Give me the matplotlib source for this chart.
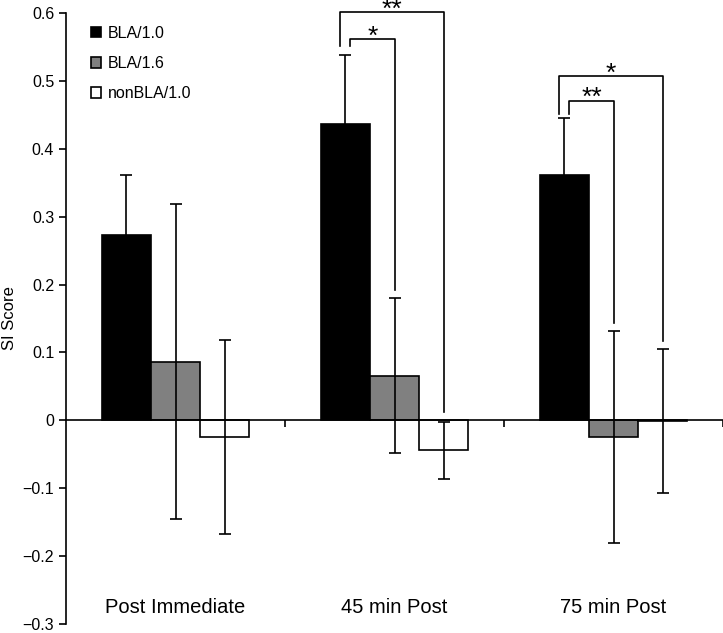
import matplotlib.pyplot as plt
import numpy as np

plt.rcParams.update({
    "font.family": ["Liberation Sans", "DejaVu Sans"],
    "font.size": 11,
    "axes.unicode_minus": True,
})

# --------------------------------------------------
# data
# --------------------------------------------------
categories = ["Post Immediate", "45 min Post", "75 min Post"]
series = ["BLA/1.0", "BLA/1.6", "nonBLA/1.0"]
means = {
    "BLA/1.0": [0.273, 0.437, 0.362],
    "BLA/1.6": [0.086, 0.066, -0.024],
    "nonBLA/1.0": [-0.025, -0.044, -0.001],
}
errors = {
    "BLA/1.0": [0.089, 0.101, 0.084],
    "BLA/1.6": [0.232, 0.114, 0.156],
    "nonBLA/1.0": [0.143, 0.042, 0.106],
}
colors = {"BLA/1.0": "black", "BLA/1.6": "#808080", "nonBLA/1.0": "white"}

# significance brackets: (category, compared series, bar height, left foot, right foot, label)
brackets = [
    (1, 1, 0.562, 0.551, 0.192, "*"),
    (1, 2, 0.601, 0.551, 0.012, "**"),
    (2, 1, 0.471, 0.451, 0.144, "**"),
    (2, 2, 0.507, 0.451, 0.117, "*"),
]

# --------------------------------------------------
# figure
# --------------------------------------------------
fig = plt.figure(figsize=(7.23, 6.33), dpi=100)
ax = fig.add_axes([66 / 723, 1 - 624 / 633, 1 - 66 / 723, (624 - 13) / 633])

width = 0.224
x = np.arange(len(categories))
offsets = [-width, 0.0, width]

for s, off in zip(series, offsets):
    ax.bar(x + off, means[s], width, color=colors[s], edgecolor="black",
           linewidth=1.2, label=s, zorder=2)
    ax.errorbar(x + off, means[s], yerr=errors[s], fmt="none", ecolor="black",
                elinewidth=1.2, capsize=4, capthick=1.2, zorder=3)

# brackets
dx = 0.023
for cat, idx, top, left_foot, right_foot, label in brackets:
    x_left = x[cat] + offsets[0] + (dx if idx == 1 else -dx)
    x_right = x[cat] + offsets[idx]
    ax.plot([x_left, x_left, x_right, x_right],
            [left_foot, top, top, right_foot],
            color="black", linewidth=1.2, clip_on=False, zorder=4)
    ax.text((x_left + x_right) / 2, top - 0.007, label, ha="center",
            va="baseline", fontsize=19, clip_on=False)

# axes styling
ax.set_xlim(-0.5, 2.5)
ax.set_ylim(-0.3, 0.6)
ax.set_yticks(np.round(np.arange(-0.3, 0.61, 0.1), 1))
ax.set_yticklabels(["\u22120.3", "\u22120.2", "\u22120.1", "0",
                    "0.1", "0.2", "0.3", "0.4", "0.5", "0.6"])
ax.tick_params(axis="y", direction="out", length=5, width=1.2, labelsize=11.5)
ax.spines["left"].set_linewidth(1.2)
ax.spines["bottom"].set_position(("data", 0))
ax.spines["bottom"].set_linewidth(1.2)
ax.spines["top"].set_visible(False)
ax.spines["right"].set_visible(False)
ax.set_xticks([0.5, 1.5, 2.5])
ax.set_xticklabels([])
ax.tick_params(axis="x", direction="out", length=5, width=1.2)

for xi, cat in zip(x, categories):
    ax.text(xi, -0.275, cat, ha="center", va="center", fontsize=14.5)

ax.set_ylabel("SI Score", fontsize=12, labelpad=4)

ax.legend(loc="upper left", bbox_to_anchor=(0.018, 1.0), frameon=False,
          fontsize=11.5, handlelength=0.65, handleheight=0.65, handletextpad=0.45,
          labelspacing=0.95, borderaxespad=0.4)

fig.savefig("out.png", dpi=100)
